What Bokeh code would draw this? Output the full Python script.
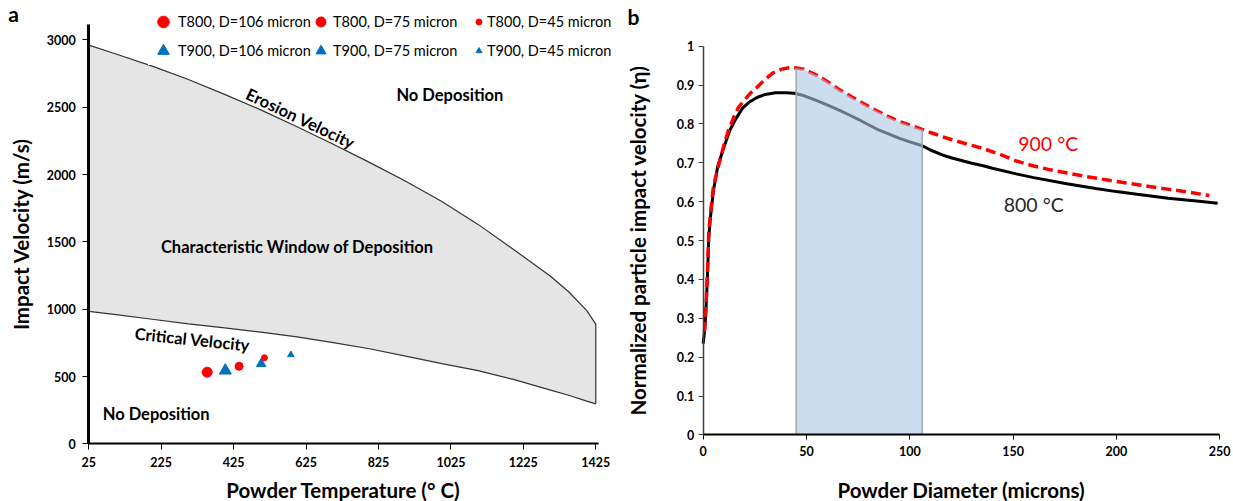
from bokeh.plotting import figure
from bokeh.layouts import row
from bokeh.models import (Range1d, FixedTicker, Legend, LegendItem, Label,
                          ColumnDataSource)
from bokeh.core.properties import value
from bokeh.embed import file_html
from bokeh.resources import INLINE
import math

# ---------------- Panel a data ----------------
temperature = [25, 100, 200, 300, 400, 500, 600, 700, 800, 900, 1000,
               1100, 1200, 1300, 1350, 1400, 1425]
erosion_velocity = [2960, 2895, 2805, 2705, 2595, 2480, 2355, 2225, 2090,
                    1950, 1800, 1630, 1440, 1245, 1130, 990, 890]
critical_velocity = [985, 960, 926, 892, 862, 830, 795, 752, 707, 652,
                     596, 545, 478, 400, 362, 318, 298]
t800_temp = [352, 440, 510]
t800_vel = [533, 577, 640]
t900_temp = [402, 501, 583]
t900_vel = [545, 595, 662]
diameter_labels = ["106", "75", "45"]
temp_ticks = [25, 225, 425, 625, 825, 1025, 1225, 1425]
vel_ticks = [0, 500, 1000, 1500, 2000, 2500, 3000]
region_text = ["No Deposition", "Erosion Velocity",
               "Characteristic Window of Deposition", "Critical Velocity",
               "No Deposition"]

# ---------------- Panel b data ----------------
diam_800 = [0, 0.5, 1, 1.5, 2, 2.7, 3.5, 5, 7, 10, 13, 16, 19, 22, 26, 30,
            35, 40, 44, 48, 55, 60, 66, 70, 75, 80, 84, 90, 95, 100, 106,
            110, 116, 120, 130, 136, 140, 152, 160, 176, 190, 200, 210, 225,
            240, 249]
eta_800 = [0.235, 0.26, 0.29, 0.34, 0.40, 0.51, 0.56, 0.63, 0.69, 0.74,
           0.785, 0.815, 0.84, 0.855, 0.868, 0.876, 0.880, 0.880, 0.879,
           0.874, 0.860, 0.849, 0.835, 0.825, 0.812, 0.798, 0.787, 0.774,
           0.763, 0.754, 0.744, 0.733, 0.720, 0.713, 0.699, 0.692, 0.686,
           0.671, 0.662, 0.646, 0.634, 0.626, 0.619, 0.609, 0.601, 0.596]
diam_900 = [0.6, 1, 1.5, 2, 2.7, 3.5, 5, 7.6, 10, 12, 14.8, 17, 19.7, 23, 26,
            30, 34, 38, 42, 45, 48.7, 55, 60, 66.5, 72, 78, 84, 90, 95, 100,
            106, 110, 116, 120, 130, 136, 144, 152, 160, 168, 184, 200, 216,
            232, 245]
eta_900 = [0.265, 0.30, 0.35, 0.41, 0.52, 0.57, 0.64, 0.697, 0.745, 0.78,
           0.817, 0.842, 0.860, 0.880, 0.894, 0.915, 0.932, 0.941, 0.945,
           0.944, 0.941, 0.925, 0.909, 0.886, 0.869, 0.851, 0.834, 0.818,
           0.806, 0.797, 0.786, 0.778, 0.767, 0.760, 0.745, 0.736, 0.721,
           0.704, 0.692, 0.682, 0.666, 0.652, 0.639, 0.627, 0.616]
band_range = [45, 106]
diam_ticks = [0, 50, 100, 150, 200, 250]
eta_ticks = [0, 0.1, 0.2, 0.3, 0.4, 0.5, 0.6, 0.7, 0.8, 0.9, 1]
eta_tick_labels = ["0", "0.1", "0.2", "0.3", "0.4", "0.5", "0.6", "0.7",
                   "0.8", "0.9", "1"]
curve_labels = ["900 °C", "800 °C"]

# ---------------- styles / layout ----------------
FONT = value("Lato")
RED = "#ff0000"
BLUE = "#0070c0"
H = 501


def style_axes(p, tick_out, standoff_x, standoff_y, lab_x, lab_y):
    p.xgrid.visible = False
    p.ygrid.visible = False
    for ax in (p.xaxis[0], p.yaxis[0]):
        ax.major_label_text_font = "Lato"
        ax.major_label_text_font_style = "bold"
        ax.major_label_text_font_size = "12.5px"
        ax.major_label_text_color = "black"
        ax.axis_label_text_font = "Lato"
        ax.axis_label_text_font_style = "bold"
        ax.axis_label_text_font_size = "20.5px"
        ax.axis_label_text_color = "black"
        ax.major_tick_in = 0
        ax.major_tick_out = tick_out
        ax.minor_tick_line_color = None
    p.xaxis.major_label_standoff = standoff_x
    p.yaxis.major_label_standoff = standoff_y
    p.xaxis.axis_label_standoff = lab_x
    p.yaxis.axis_label_standoff = lab_y


# ================= Panel a =================
# frame covers whole figure; axes drawn at fixed data locations
pa = figure(width=620, height=H, output_backend="svg", toolbar_location=None,
            x_range=Range1d(-218.8, 1493.2), y_range=Range1d(-426.8, 3291.7),
            min_border=0, outline_line_color=None,
            x_axis_label="Powder Temperature (° C)",
            y_axis_label="Impact Velocity (m/s)")
style_axes(pa, 6, 7, 7, 8, 11)
pa.xaxis.ticker = FixedTicker(ticks=temp_ticks)
pa.yaxis.ticker = FixedTicker(ticks=vel_ticks)
pa.xaxis.fixed_location = 0
pa.yaxis.fixed_location = temp_ticks[0]
pa.xaxis.bounds = (temp_ticks[0], 1433)
pa.yaxis.bounds = (0, 3116)
pa.xaxis.axis_line_width = 2
pa.yaxis.axis_line_width = 3
pa.xaxis.axis_line_color = "black"
pa.yaxis.axis_line_color = "black"

pa.varea(x=temperature, y1=critical_velocity, y2=erosion_velocity,
         fill_color="#e5e5e5")
pa.line(temperature, erosion_velocity, line_color="#333333", line_width=1.2)
pa.line(temperature, critical_velocity, line_color="#333333", line_width=1.2)
pa.segment(x0=[temperature[-1]], y0=[critical_velocity[-1]],
           x1=[temperature[-1]], y1=[erosion_velocity[-1]],
           line_color="#333333", line_width=1.2)

# region labels
reg_x = [1022, 610, 601, 311, 211]
reg_y = [2593, 2415, 1465, 775, 219]
reg_angle = [0, -25.5, 0, -6, 0]
pa.text(x=reg_x, y=reg_y, text=region_text,
        angle=[math.radians(a) for a in reg_angle],
        text_font=FONT, text_font_style="bold", text_font_size="16.5px",
        text_align="center", text_baseline="middle", text_color="black")

circle_sizes = [10, 8, 6]
tri_sizes = [12, 9.5, 6.5]
r800, r900 = [], []
for i in range(3):
    s1 = ColumnDataSource(dict(x=[t800_temp[i]], y=[t800_vel[i]]))
    r800.append(pa.scatter("x", "y", source=s1, marker="circle",
                           size=circle_sizes[i], fill_color=RED,
                           line_color=RED))
    s2 = ColumnDataSource(dict(x=[t900_temp[i]], y=[t900_vel[i]]))
    r900.append(pa.scatter("x", "y", source=s2, marker="triangle",
                           size=tri_sizes[i], fill_color=BLUE,
                           line_color=BLUE))

leg_specs = [  # (x, y, glyph_w, glyph_h, spacing, standoff, bg alpha)
    (148, 436, 30, 29, 0, -7, 1.0),
    (308, 438, 25, 25, 4, -5, 0.0),
    (471, 441, 15, 15, 9, 1, 0.0),
]
for i, (lx, ly, gw, gh, sp, so, ba) in enumerate(leg_specs):
    items = [
        LegendItem(label="T800, D=%s micron" % diameter_labels[i],
                   renderers=[r800[i]]),
        LegendItem(label="T900, D=%s micron" % diameter_labels[i],
                   renderers=[r900[i]]),
    ]
    leg = Legend(items=items, location=(lx, ly), orientation="vertical",
                 glyph_width=gw, glyph_height=gh, spacing=sp, padding=0,
                 margin=0, label_standoff=so, label_height=20,
                 label_text_font="Lato", label_text_font_size="14.5px",
                 label_text_color="black", background_fill_color="white",
                 background_fill_alpha=ba, border_line_color=None)
    pa.add_layout(leg)

pa.add_layout(Label(x=13, y=488, x_units="screen", y_units="screen",
                    text="a", text_font="Lato", text_font_style="bold",
                    text_font_size="21px", text_baseline="middle",
                    text_align="center", text_color="black"))

# ================= Panel b =================
pb = figure(width=613, height=H, output_backend="svg", toolbar_location=None,
            x_range=Range1d(-40.03, 256.68), y_range=Range1d(-0.17104, 1.11754),
            min_border=0, outline_line_color=None,
            x_axis_label="Powder Diameter (microns)",
            y_axis_label="Normalized particle impact velocity (η)")
style_axes(pb, 5, 6, 4, 19, 24)
pb.xaxis.ticker = FixedTicker(ticks=diam_ticks)
pb.yaxis.ticker = FixedTicker(ticks=eta_ticks)
pb.yaxis.major_label_overrides = dict(zip(eta_ticks, eta_tick_labels))
pb.xaxis.fixed_location = 0
pb.yaxis.fixed_location = 0
pb.xaxis.bounds = (diam_ticks[0], diam_ticks[-1])
pb.yaxis.bounds = (eta_ticks[0], eta_ticks[-1])
pb.xaxis.axis_line_width = 2
pb.xaxis.axis_line_color = "black"
pb.xaxis.major_tick_line_color = "black"
pb.yaxis.axis_line_width = 1.5
pb.yaxis.axis_line_color = "#404040"
pb.yaxis.major_tick_line_color = "#404040"

pb.line(diam_800, eta_800, line_color="black", line_width=3)
pb.line(diam_900, eta_900, line_color=RED, line_width=3.5, line_dash="10 5")

band_x = [d for d in diam_900 if band_range[0] <= d <= band_range[1]]
band_top = [e for d, e in zip(diam_900, eta_900)
            if band_range[0] <= d <= band_range[1]]
pb.varea(x=band_x, y1=[0] * len(band_x), y2=band_top,
         fill_color="#a9c6e3", fill_alpha=0.6)
pb.segment(x0=[band_x[0], band_x[-1]], y0=[0, 0],
           x1=[band_x[0], band_x[-1]], y1=[band_top[0], band_top[-1]],
           line_color="#a6a6a6", line_width=1.5)

pb.text(x=[167, 160], y=[0.751, 0.594], text=curve_labels,
        text_color=[RED, "#262626"], text_font=FONT,
        text_font_size="19.5px", text_align="center",
        text_baseline="middle")

pb.add_layout(Label(x=13, y=485, x_units="screen", y_units="screen",
                    text="b", text_font="Lato", text_font_style="bold",
                    text_font_size="21px", text_baseline="middle",
                    text_align="center", text_color="black"))

layout = row(pa, pb, spacing=0)
open("out.html", "w").write(file_html(layout, INLINE))
